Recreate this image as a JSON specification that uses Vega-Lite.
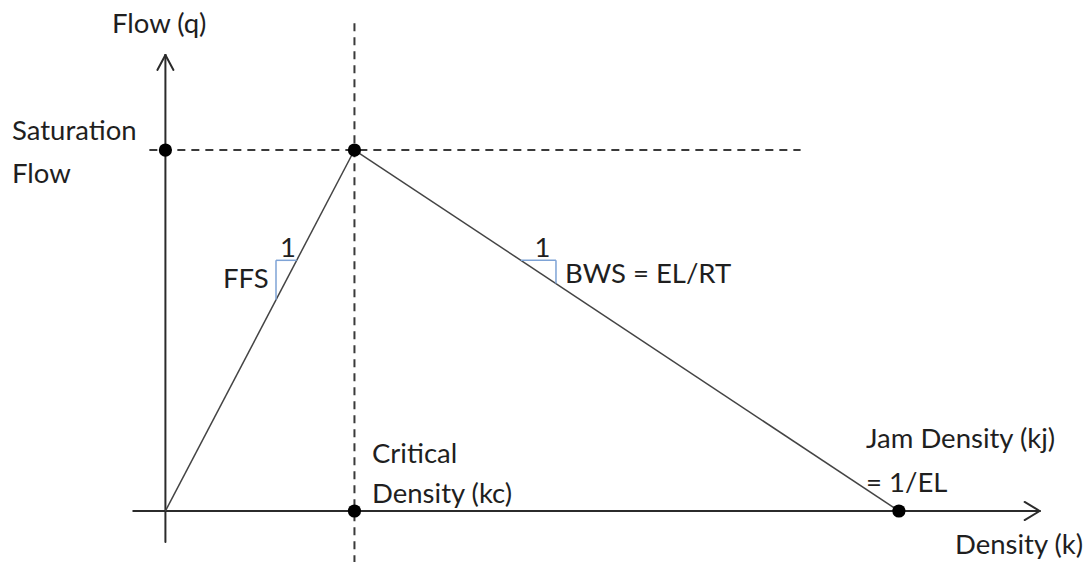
{
  "$schema": "https://vega.github.io/schema/vega-lite/v6.json",
  "width": 1087,
  "height": 562,
  "autosize": {"type": "none"},
  "padding": 0,
  "background": "white",
  "config": {"view": {"stroke": null}},
  "datasets": {
    "segs": [
      {"g": "axis", "x": 0, "y": -155, "x2": 0, "y2": 2274},
      {"g": "axis", "x": -0.85, "y": 2199, "x2": 0, "y2": 2274},
      {"g": "axis", "x": 0.85, "y": 2199, "x2": 0, "y2": 2274},
      {"g": "axis", "x": -3.4, "y": 0, "x2": 92.5, "y2": 0},
      {"g": "axis", "x": 90.9, "y": 45, "x2": 92.5, "y2": 0},
      {"g": "axis", "x": 90.9, "y": -45, "x2": 92.5, "y2": 0},
      {"g": "dash", "x": 20, "y": -260, "x2": 20, "y2": 2433},
      {"g": "dash", "x": -1.7, "y": 1800, "x2": 67.2, "y2": 1800},
      {"g": "tri", "x": 0, "y": 0, "x2": 20, "y2": 1800},
      {"g": "tri", "x": 20, "y": 1800, "x2": 77.6, "y2": 0},
      {"g": "slope", "x": 11.7, "y": 1053, "x2": 11.7, "y2": 1250},
      {"g": "slope", "x": 11.7, "y": 1250, "x2": 13.89, "y2": 1250},
      {"g": "slope", "x": 37.6, "y": 1250, "x2": 41.32, "y2": 1250},
      {"g": "slope", "x": 41.32, "y": 1250, "x2": 41.32, "y2": 1133.8}
    ],
    "pts": [
      {"x": 0, "y": 1800},
      {"x": 20, "y": 1800},
      {"x": 20, "y": 0},
      {"x": 77.6, "y": 0}
    ],
    "labels": [
      {"t": "Flow (q)", "x": -5.65, "y": 2383, "a": "left"},
      {"t": "Saturation", "x": -16.23, "y": 1850, "a": "left"},
      {"t": "Flow", "x": -16.23, "y": 1635, "a": "left"},
      {"t": "FFS", "x": 6.09, "y": 1112, "a": "left"},
      {"t": "1", "x": 12.97, "y": 1266, "a": "center"},
      {"t": "1", "x": 39.9, "y": 1266, "a": "center"},
      {"t": "BWS = EL/RT", "x": 42.28, "y": 1137, "a": "left"},
      {"t": "Critical", "x": 21.86, "y": 239, "a": "left"},
      {"t": "Density (kc)", "x": 21.86, "y": 40, "a": "left"},
      {"t": "Jam Density (kj)", "x": 74.12, "y": 314, "a": "left"},
      {"t": "= 1/EL", "x": 74.12, "y": 95, "a": "left"},
      {"t": "Density (k)", "x": 83.53, "y": -212, "a": "left"}
    ]
  },
  "encoding": {
    "x": {"field": "x", "type": "quantitative", "scale": {"domain": [-17.5, 97.5], "nice": false, "zero": false}, "axis": null},
    "y": {"field": "y", "type": "quantitative", "scale": {"domain": [-254.3, 2548], "nice": false, "zero": false}, "axis": null}
  },
  "layer": [
    {
      "data": {"name": "segs"},
      "transform": [{"filter": "datum.g == 'dash'"}],
      "mark": {"type": "rule", "color": "#3a3a3a", "strokeWidth": 2, "strokeDash": [8, 6]},
      "encoding": {"x2": {"field": "x2"}, "y2": {"field": "y2"}}
    },
    {
      "data": {"name": "segs"},
      "transform": [{"filter": "datum.g == 'axis'"}],
      "mark": {"type": "rule", "color": "#2b2b2b", "strokeWidth": 2, "strokeCap": "round"},
      "encoding": {"x2": {"field": "x2"}, "y2": {"field": "y2"}}
    },
    {
      "data": {"name": "segs"},
      "transform": [{"filter": "datum.g == 'tri'"}],
      "mark": {"type": "rule", "color": "#444444", "strokeWidth": 1.5},
      "encoding": {"x2": {"field": "x2"}, "y2": {"field": "y2"}}
    },
    {
      "data": {"name": "segs"},
      "transform": [{"filter": "datum.g == 'slope'"}],
      "mark": {"type": "rule", "color": "#7ea3d6", "strokeWidth": 1.5},
      "encoding": {"x2": {"field": "x2"}, "y2": {"field": "y2"}}
    },
    {
      "data": {"name": "pts"},
      "mark": {"type": "point", "filled": true, "color": "black", "opacity": 1, "size": 175}
    },
    {
      "data": {"name": "labels"},
      "transform": [{"filter": "datum.a == 'left'"}],
      "mark": {"type": "text", "font": "Lato", "fontSize": 27.5, "color": "#1f1f1f", "baseline": "alphabetic", "align": "left"},
      "encoding": {"text": {"field": "t"}}
    },
    {
      "data": {"name": "labels"},
      "transform": [{"filter": "datum.a == 'center'"}],
      "mark": {"type": "text", "font": "Lato", "fontSize": 27.5, "color": "#1f1f1f", "baseline": "alphabetic", "align": "center"},
      "encoding": {"text": {"field": "t"}}
    }
  ]
}
